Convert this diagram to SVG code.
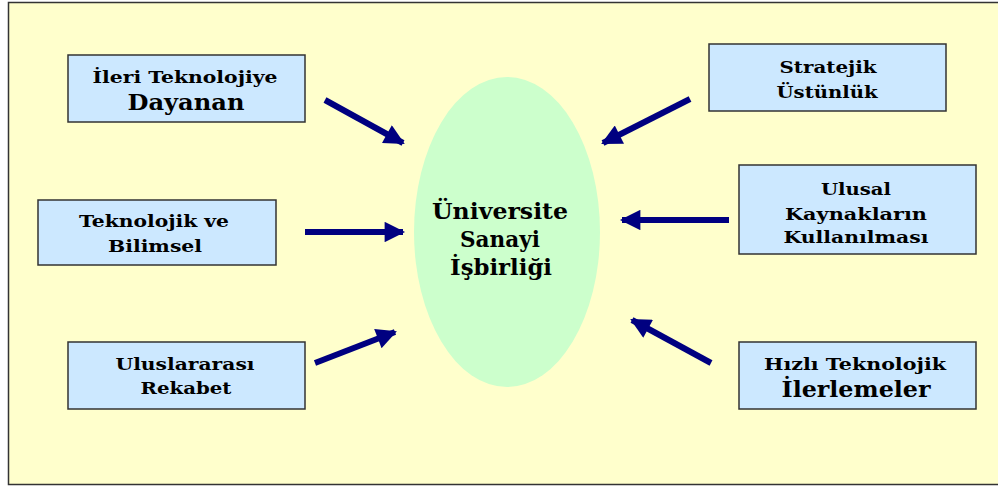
<svg xmlns="http://www.w3.org/2000/svg" width="998" height="487" viewBox="0 0 998 487">
<defs>
<style>
.box{fill:#CCE8FF;stroke:#333;stroke-width:1.5}
text{font-family:'DejaVu Serif','Liberation Serif',serif;font-weight:bold;font-size:16px;fill:#000;text-anchor:middle}
.tl{font-size:22px}
.c{font-size:22px}
.arr{stroke:#000080;stroke-width:6;fill:none}
</style>
<marker id="ah" viewBox="0 0 10 10" refX="9" refY="5" markerWidth="4" markerHeight="3.4" orient="auto" markerUnits="strokeWidth">
<path d="M0,0 L10,5 L0,10 Z" fill="#000080"/>
</marker>
</defs>
<rect x="0" y="0" width="998" height="487" fill="#FFFFFF"/>
<rect x="8.5" y="2.5" width="1000" height="482" fill="#FFFFCC" stroke="#333" stroke-width="1.5"/>

<g id="center">
<ellipse cx="507" cy="232" rx="93" ry="155" fill="#CCFFCC"/>
<text class="c" x="500" y="219" textLength="136" lengthAdjust="spacingAndGlyphs">Üniversite</text>
<text class="c" x="500" y="247" textLength="80" lengthAdjust="spacingAndGlyphs">Sanayi</text>
<text class="c" x="501" y="275" textLength="102" lengthAdjust="spacingAndGlyphs">İşbirliği</text>
</g>

<g id="n1">
<rect class="box" x="68" y="55" width="237" height="67"/>
<text x="185" y="83" textLength="185" lengthAdjust="spacingAndGlyphs">İleri Teknolojiye</text>
<text class="tl" x="186" y="110" textLength="117" lengthAdjust="spacingAndGlyphs">Dayanan</text>
</g>
<g id="n2">
<rect class="box" x="38" y="200" width="238" height="65"/>
<text x="154" y="227" textLength="150" lengthAdjust="spacingAndGlyphs">Teknolojik ve</text>
<text x="155" y="252" textLength="94" lengthAdjust="spacingAndGlyphs">Bilimsel</text>
</g>
<g id="n3">
<rect class="box" x="68" y="342" width="237" height="67"/>
<text x="185" y="370" textLength="139" lengthAdjust="spacingAndGlyphs">Uluslararası</text>
<text x="186" y="394" textLength="91" lengthAdjust="spacingAndGlyphs">Rekabet</text>
</g>
<g id="n4">
<rect class="box" x="709" y="44" width="237" height="67"/>
<text x="828" y="73" textLength="97" lengthAdjust="spacingAndGlyphs">Stratejik</text>
<text x="827" y="98" textLength="101" lengthAdjust="spacingAndGlyphs">Üstünlük</text>
</g>
<g id="n5">
<rect class="box" x="739" y="165" width="237" height="89"/>
<text x="856" y="195" textLength="70" lengthAdjust="spacingAndGlyphs">Ulusal</text>
<text x="856" y="220" textLength="142" lengthAdjust="spacingAndGlyphs">Kaynakların</text>
<text x="856" y="243" textLength="145" lengthAdjust="spacingAndGlyphs">Kullanılması</text>
</g>
<g id="n6">
<rect class="box" x="739" y="342" width="237" height="67"/>
<text x="855" y="370" textLength="182" lengthAdjust="spacingAndGlyphs">Hızlı Teknolojik</text>
<text class="tl" x="856" y="397" textLength="149" lengthAdjust="spacingAndGlyphs">İlerlemeler</text>
</g>

<g id="connectors">
<line class="arr" x1="325" y1="100" x2="403" y2="143" marker-end="url(#ah)"/>
<line class="arr" x1="305" y1="232" x2="403" y2="232" marker-end="url(#ah)"/>
<line class="arr" x1="315" y1="363" x2="395" y2="332" marker-end="url(#ah)"/>
<line class="arr" x1="690" y1="99" x2="603" y2="143" marker-end="url(#ah)"/>
<line class="arr" x1="729" y1="220" x2="622" y2="220" marker-end="url(#ah)"/>
<line class="arr" x1="711" y1="363" x2="632" y2="320" marker-end="url(#ah)"/>
</g>
</svg>
